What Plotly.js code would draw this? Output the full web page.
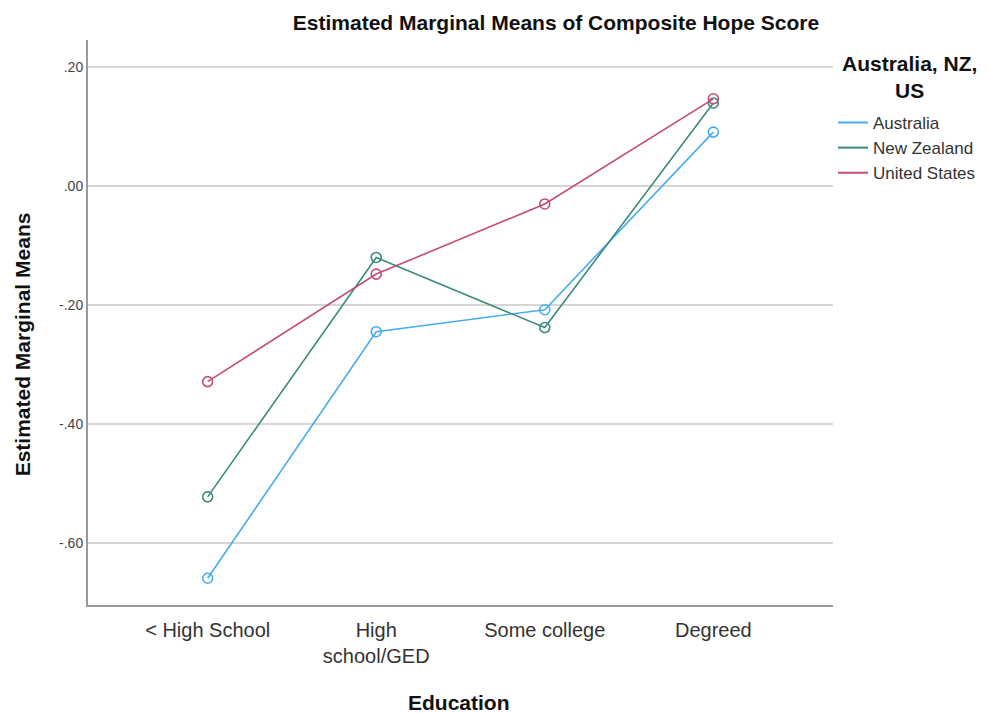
<!DOCTYPE html>
<html>
<head>
<meta charset="utf-8">
<script src="https://cdn.plot.ly/plotly-3.0.1.min.js"></script>
<style>html,body{margin:0;padding:0;background:#fff;}#chart{width:990px;height:713px;}</style>
</head>
<body>
<div id="chart"></div>
<script>
const categories = ["< High School", "High<br>school/GED", "Some college", "Degreed"];
const seriesNames = ["Australia", "New Zealand", "United States"];
const australia = [-0.660, -0.245, -0.208, 0.091];
const newZealand = [-0.523, -0.120, -0.238, 0.140];
const unitedStates = [-0.329, -0.148, -0.030, 0.147];
const yTickVals = [0.2, 0.0, -0.2, -0.4, -0.6];
const yTickText = [".20", ".00", "-.20", "-.40", "-.60"];
const colors = ["#45adf0", "#3a8b7e", "#c24d7b"];

const FONT = "Liberation Sans, Arial, sans-serif";
const seriesVals = [australia, newZealand, unitedStates];
const xIdx = categories.map((c, i) => i);

const traces = [];
seriesVals.forEach((vals, k) => {
  traces.push({
    x: xIdx, y: vals, type: "scatter", mode: "lines+markers",
    name: seriesNames[k], showlegend: false,
    line: {color: colors[k], width: 1.6},
    marker: {symbol: "circle-open", size: 10, color: colors[k], line: {width: 1.6, color: colors[k]}},
    hoverinfo: "skip"
  });
});
seriesVals.forEach((vals, k) => {
  traces.push({
    x: [null], y: [null], type: "scatter", mode: "lines",
    name: seriesNames[k], showlegend: true,
    line: {color: colors[k], width: 2}
  });
});

const layout = {
  width: 990, height: 713,
  paper_bgcolor: "#fff", plot_bgcolor: "#fff",
  margin: {l: 88, r: 157, t: 40, b: 108, autoexpand: false},
  font: {family: FONT, color: "#222"},
  title: {text: "<b>Estimated Marginal Means of Composite Hope Score</b>",
          font: {size: 21, family: FONT, color: "#111"}, xref: "container", x: 0.5616, xanchor: "center",
          yref: "container", y: 0.968, yanchor: "middle"},
  xaxis: {
    range: [-0.71, 3.71], tickvals: xIdx, ticktext: categories,
    showgrid: false, zeroline: false, showline: true, linecolor: "#9a9a9a", linewidth: 2,
    ticks: "", ticklabelstandoff: 6, tickfont: {size: 20, family: FONT, color: "#333"},
    fixedrange: true
  },
  yaxis: {
    range: [-0.705, 0.246], tickvals: yTickVals, ticktext: yTickText,
    showgrid: true, gridcolor: "#d6d6d6", gridwidth: 2, zeroline: false,
    showline: true, linecolor: "#9a9a9a", linewidth: 2,
    ticks: "", tickfont: {size: 14, family: FONT, color: "#444"},
    fixedrange: true
  },
  legend: {
    x: 1.0, xanchor: "left", y: 0.885, yanchor: "top",
    font: {size: 17, family: FONT, color: "#333"},
    itemwidth: 30, tracegroupgap: 0, bgcolor: "rgba(0,0,0,0)"
  },
  annotations: [
    {
      text: "<b>Australia, NZ,<br>US</b>", xref: "paper", yref: "paper",
      x: 1.103, y: 0.982, xanchor: "center", yanchor: "top", showarrow: false,
      font: {size: 21, family: FONT, color: "#111"}, align: "center"
    },
    {
      text: "<b>Estimated Marginal Means</b>", xref: "paper", yref: "paper",
      x: -0.0875, y: 0.461, xanchor: "center", yanchor: "middle", textangle: -90, showarrow: false,
      font: {size: 21, family: FONT, color: "#111"}
    },
    {
      text: "<b>Education</b>", xref: "paper", yref: "paper",
      x: 0.4985, y: -0.172, xanchor: "center", yanchor: "middle", showarrow: false,
      font: {size: 21, family: FONT, color: "#111"}
    }
  ]
};

Plotly.newPlot("chart", traces, layout, {displayModeBar: false, staticPlot: true});
</script>
</body>
</html>
